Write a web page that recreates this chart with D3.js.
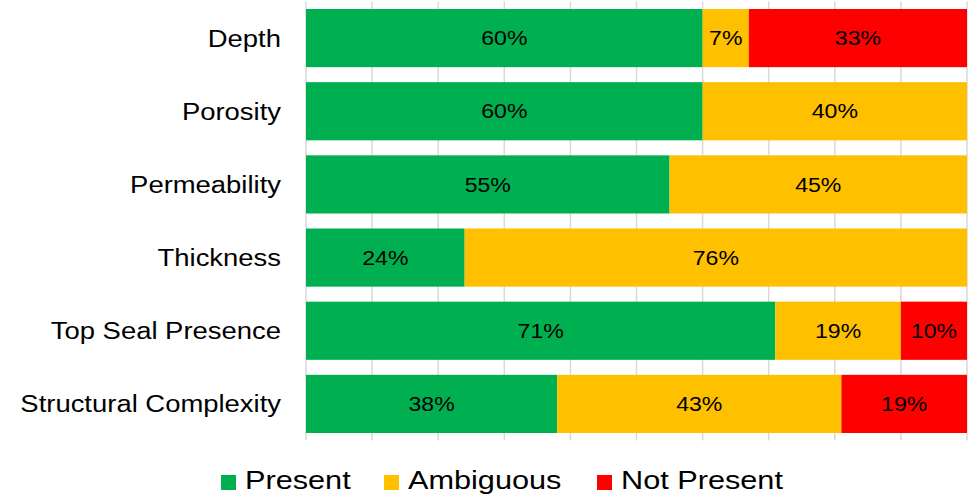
<!DOCTYPE html>
<html>
<head>
<meta charset="utf-8">
<script src="https://cdn.jsdelivr.net/npm/d3@7"></script>
<style>
  html, body { margin: 0; padding: 0; background: #fff; }
  svg { display: block; font-family: "Liberation Sans", Arial, sans-serif; }
</style>
</head>
<body>
<svg id="chart" width="975" height="498"></svg>
<script>
// Criteria assessed, top to bottom
const categories = ["Depth", "Porosity", "Permeability", "Thickness", "Top Seal Presence", "Structural Complexity"];
// Share of each outcome per criterion (%)
const present    = [60, 60, 55, 24, 71, 38];
const ambiguous  = [7, 40, 45, 76, 19, 43];
const notPresent = [33, 0, 0, 0, 10, 19];
const seriesNames = ["Present", "Ambiguous", "Not Present"];
const seriesColors = ["#00B050", "#FFC000", "#FF0000"];
const xTicks = [0, 10, 20, 30, 40, 50, 60, 70, 80, 90, 100];

const svg = d3.select("#chart");

const x = d3.scaleLinear().domain([0, 100]).range([306, 967]);
const y = d3.scaleBand().domain(categories).range([1.5, 440.5])
  .paddingInner(0.205).paddingOuter(0.1025);
const color = d3.scaleOrdinal().domain(seriesNames).range(seriesColors);

const rows = categories.map((c, i) => ({
  category: c,
  "Present": present[i],
  "Ambiguous": ambiguous[i],
  "Not Present": notPresent[i]
}));
const stacked = d3.stack().keys(seriesNames)(rows);

// vertical gridlines
svg.append("g").selectAll("line").data(xTicks).join("line")
  .attr("x1", d => x(d)).attr("x2", d => x(d))
  .attr("y1", y.range()[0]).attr("y2", y.range()[1])
  .attr("stroke", "#d9d9d9").attr("stroke-width", 1.5);

// stacked bars
const layer = svg.append("g").selectAll("g").data(stacked).join("g")
  .attr("fill", d => color(d.key));
layer.selectAll("rect").data(d => d.filter(s => s[1] - s[0] > 0)).join("rect")
  .attr("x", d => x(d[0]))
  .attr("width", d => x(d[1]) - x(d[0]))
  .attr("y", d => y(d.data.category))
  .attr("height", y.bandwidth());

// value labels
const valueLabels = [];
stacked.forEach(s => s.forEach(d => {
  const v = d[1] - d[0];
  if (v > 0) valueLabels.push({ v, cx: (x(d[0]) + x(d[1])) / 2, cy: y(d.data.category) + y.bandwidth() / 2 });
}));
svg.append("g").selectAll("text").data(valueLabels).join("text")
  .attr("transform", d => `translate(${d.cx},${d.cy}) scale(1.1,1)`)
  .attr("text-anchor", "middle")
  .attr("dominant-baseline", "central")
  .attr("font-size", 21)
  .attr("fill", "#000")
  .text(d => d.v + "%");

// category labels
svg.append("g").selectAll("text").data(categories).join("text")
  .attr("transform", d => `translate(281,${y(d) + y.bandwidth() / 2}) scale(1.12,1)`)
  .attr("text-anchor", "end")
  .attr("dominant-baseline", "central")
  .attr("font-size", 24.5)
  .attr("fill", "#000")
  .text(d => d);

// legend
const legendX = [221, 384, 597];
const legend = svg.append("g").selectAll("g").data(seriesNames).join("g")
  .attr("transform", (d, i) => `translate(${legendX[i]},475)`);
legend.append("rect").attr("width", 15).attr("height", 15).attr("fill", d => color(d));
legend.append("text")
  .attr("transform", "translate(24,14) scale(1.18,1)")
  .attr("font-size", 26)
  .attr("fill", "#000")
  .text(d => d);
</script>
</body>
</html>
